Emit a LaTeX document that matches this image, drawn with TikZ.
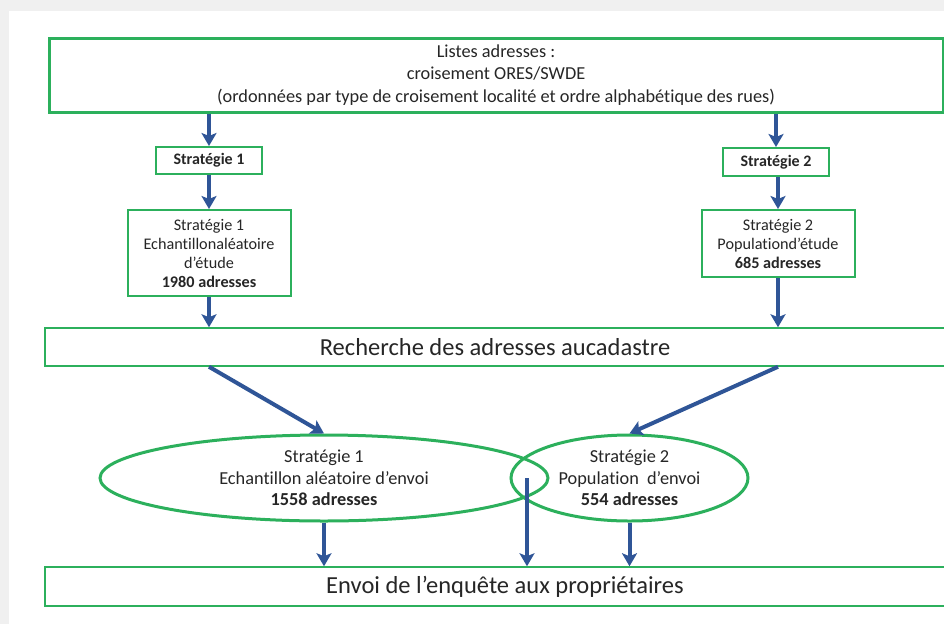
\documentclass[tikz,border=0pt]{standalone}
\usepackage{fontspec}
\setmainfont{Carlito}[Ligatures=NoCommon]
\usetikzlibrary{arrows.meta,shapes.geometric}
\definecolor{gbox}{RGB}{44,176,92}
\definecolor{barrow}{RGB}{47,85,151}
\begin{document}
\begin{tikzpicture}[x=1pt,y=-1pt,
 box/.style={draw=gbox,line width=2pt,fill=white,align=center,inner sep=0pt,text=black!85},
 arr/.style={draw=barrow,line width=4pt,-{Stealth[length=13pt,width=15pt,inset=3pt]}},
 ell/.style={draw=gbox,line width=3pt,ellipse,inner sep=0pt,align=center,text=black!85}]
\useasboundingbox (0,0) rectangle (944,624);
\clip (0,0) rectangle (944,624);
\fill[gray!12] (0,0) rectangle (944,624);
\fill[white] (9,11) rectangle (944,624);
% nodes
\node[box,line width=3pt,minimum width=894pt,minimum height=74pt,font=\fontsize{18.3}{22.5}\selectfont] (top) at (496,75)
  {Listes adresses :\\croisement ORES/SWDE\\(ordonnées par type de croisement localité et ordre alphabétique des rues)};
\node[box,minimum width=106pt,minimum height=27pt,font=\fontsize{16}{19}\selectfont\bfseries] (s1) at (209,160.5) {Stratégie 1};
\node[box,minimum width=163pt,minimum height=86pt,font=\fontsize{16.2}{19}\selectfont] (s1b) at (209,253)
  {Stratégie 1\\Echantillonaléatoire\\d’étude\\\textbf{1980 adresses}};
\node[box,minimum width=106pt,minimum height=28pt,font=\fontsize{16}{19}\selectfont\bfseries] (s2) at (776,162) {Stratégie 2};
\node[box,minimum width=153pt,minimum height=67pt,font=\fontsize{16.2}{19}\selectfont] (s2b) at (778,243.5)
  {Stratégie 2\\Populationd’étude\\\textbf{685 adresses}};
\node[box,line width=1.5pt,minimum width=900pt,minimum height=38pt,font=\fontsize{24.5}{26}\selectfont] (rech) at (495,347)
  {Recherche des adresses aucadastre};
\node[ell,minimum width=448pt,minimum height=86pt,font=\fontsize{18.3}{21.5}\selectfont] (e1) at (324,478)
  {Stratégie 1\\Echantillon aléatoire d’envoi\\\textbf{1558 adresses}};
\node[ell,minimum width=237pt,minimum height=86pt,font=\fontsize{18.3}{21.5}\selectfont] (e2) at (629.5,478)
  {Stratégie 2\\Population\ \ d’envoi\\\textbf{554 adresses}};
\node[box,line width=1.5pt,minimum width=920pt,minimum height=39pt,font=\fontsize{24.5}{26}\selectfont] (env) at (505,586.5)
  {Envoi de l’enquête aux propriétaires};
\coordinate (m) at (527,478);
% arrows
\draw[arr] (top.south -| s1) -- (s1.north);
\draw[arr] (s1.south) -- (s1b.north);
\draw[arr] (s1b.south) -- (s1b.south |- rech.north);
\draw[arr] (top.south -| s2) -- (s2.north);
\draw[arr] (s2.south -| s2b) -- (s2b.north);
\draw[arr] (s2b.south) -- (s2b.south |- rech.north);
\draw[arr] (rech.south -| s1b) -- (e1.north);
\draw[arr] (rech.south -| s2b) -- (e2.north);
\draw[arr] (e1.south) -- (e1.south |- env.north);
\draw[arr] (m) -- (m |- env.north);
\draw[arr] (e2.south) -- (e2.south |- env.north);
\end{tikzpicture}
\end{document}
